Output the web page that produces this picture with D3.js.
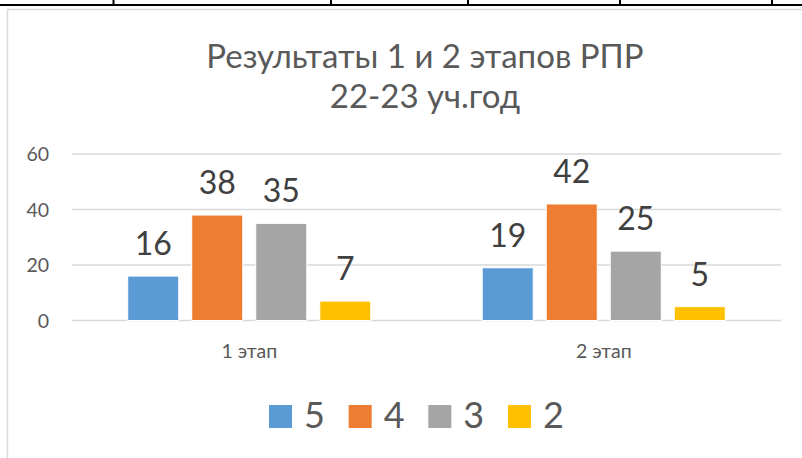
<!DOCTYPE html>
<html>
<head>
<meta charset="utf-8">
<script src="https://cdn.jsdelivr.net/npm/d3@7"></script>
<style>
  html, body { margin: 0; padding: 0; background: #fff; }
  svg { display: block; font-family: Lato, "Open Sans", sans-serif; }
</style>
</head>
<body>
<div id="chart"></div>
<script>
var w = 802, h = 458;

// data
var categories = ["1 этап", "2 этап"];
var series = ["5", "4", "3", "2"];
var values = {
  "5": [16, 19],
  "4": [38, 42],
  "3": [35, 25],
  "2": [7, 5]
};
var yTicks = [0, 20, 40, 60];
var titleLines = ["Результаты 1 и 2 этапов РПР", "22-23 уч.год"];

var colors = {"5": "#5B9BD5", "4": "#ED7D31", "3": "#A5A5A5", "2": "#FFC000"};

var svg = d3.select("#chart").append("svg").attr("width", w).attr("height", h);

/*
 * table border above the chart (cropped from the document)
 */
svg.append("rect").attr("x", 0).attr("y", 4).attr("width", w).attr("height", 2).attr("fill", "#000");
[113.5, 331, 468, 620, 772].forEach(function(cx){
  svg.append("rect").attr("x", cx - 1).attr("y", 0).attr("width", 2).attr("height", 5).attr("fill", "#000");
});

// chart frame
svg.append("rect")
   .attr("x", 7.5).attr("y", 9.5)
   .attr("width", w + 20).attr("height", h + 20)
   .attr("fill", "none").attr("stroke", "#D9D9D9").attr("stroke-width", 1.5);

// title
svg.append("text")
   .attr("x", 425).attr("y", 68)
   .attr("text-anchor", "middle")
   .attr("font-size", 33).attr("fill", "#595959")
   .selectAll("tspan").data(titleLines).enter().append("tspan")
   .attr("x", 425).attr("dy", function(d, i){ return i == 0 ? 0 : 40; })
   .text(function(d){ return d; });

// scales
var x0 = d3.scaleBand().domain(categories).range([72, 781]);
var x1 = d3.scaleBand().domain(series).range([0, x0.bandwidth()])
           .paddingInner(0.203).paddingOuter(0.87);
var y = d3.scaleLinear().domain([0, 60]).range([320.5, 154]);

// gridlines + y labels
var grid = svg.append("g");
grid.selectAll("line").data(yTicks).enter().append("line")
    .attr("x1", 72).attr("x2", 781)
    .attr("y1", function(d){ return y(d); }).attr("y2", function(d){ return y(d); })
    .attr("stroke", "#D9D9D9").attr("stroke-width", 1.5);
grid.selectAll("text").data(yTicks).enter().append("text")
    .attr("x", 49).attr("y", function(d){ return y(d); })
    .attr("dy", "0.36em")
    .attr("text-anchor", "end")
    .attr("font-size", 19.5).attr("fill", "#595959")
    .text(function(d){ return d; });

// bars
var groups = svg.selectAll(".grp").data(categories).enter().append("g")
    .attr("class", "grp")
    .attr("transform", function(d){ return "translate(" + x0(d) + ",0)"; });

groups.each(function(cat, ci){
  var g = d3.select(this);
  var items = series.map(function(s){ return {s: s, v: values[s][ci]}; });
  g.selectAll("rect").data(items).enter().append("rect")
   .attr("x", function(d){ return x1(d.s); })
   .attr("y", function(d){ return y(d.v); })
   .attr("width", x1.bandwidth())
   .attr("height", function(d){ return y(0) - y(d.v); })
   .attr("fill", function(d){ return colors[d.s]; })
   .attr("stroke", "#fff").attr("stroke-width", 1);
  g.selectAll("text.lbl").data(items).enter().append("text")
   .attr("class", "lbl")
   .attr("x", function(d){ return x1(d.s) + x1.bandwidth() / 2; })
   .attr("y", function(d){ return y(d.v) - 21; })
   .attr("text-anchor", "middle")
   .attr("font-size", 32).attr("fill", "#404040")
   .text(function(d){ return d.v; });
});

// category labels
svg.selectAll(".cat").data(categories).enter().append("text")
   .attr("class", "cat")
   .attr("x", function(d){ return x0(d) + x0.bandwidth() / 2; })
   .attr("y", 358)
   .attr("text-anchor", "middle")
   .attr("font-size", 19.5).attr("fill", "#595959")
   .text(function(d){ return d; });

// legend
var legendX = d3.scalePoint().domain(series).range([269, 508]);
var leg = svg.selectAll(".leg").data(series).enter().append("g")
   .attr("class", "leg")
   .attr("transform", function(d){ return "translate(" + legendX(d) + ",405)"; });
leg.append("rect").attr("width", 23).attr("height", 23)
   .attr("fill", function(d){ return colors[d]; });
leg.append("text").attr("x", 35).attr("y", 23)
   .attr("font-size", 36).attr("fill", "#595959")
   .text(function(d){ return d; });
</script>
</body>
</html>
